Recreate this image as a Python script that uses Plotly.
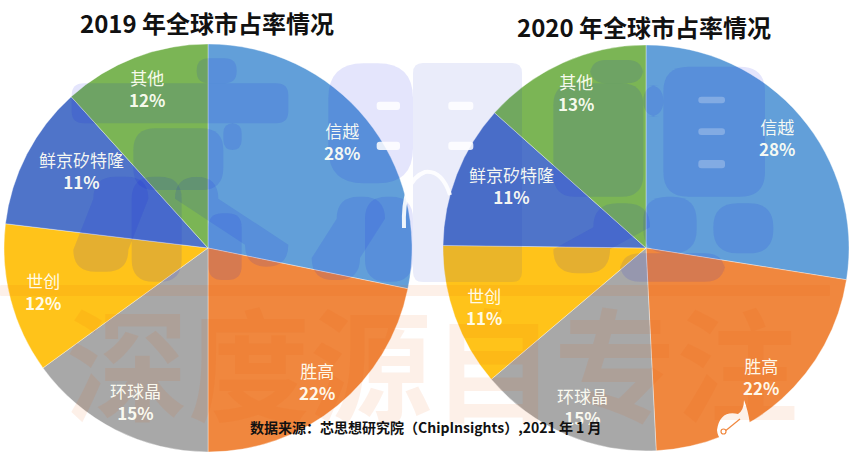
import plotly.graph_objects as go

labels = ["信越", "胜高", "环球晶", "世创", "鲜京矽特隆", "其他"]
v2019 = [28.2, 21.8, 15.0, 11.9, 11.4, 11.7]
v2020 = [27.5, 21.7, 14.6, 11.4, 11.4, 13.4]
colors = ["#629fd9", "#f0873e", "#a8a8a8", "#ffc31a", "#4f74c9", "#7bb555"]
title19 = "2019 年全球市占率情况"
title20 = "2020 年全球市占率情况"
source = "数据来源：芯思想研究院（ChipInsights）,2021 年 1 月"
watermark = "深度源自专注"
label_xy19 = [(342, 141), (317, 381), (135, 401), (43, 291), (81, 170), (147, 89)]
label_xy20 = [(777, 137), (761, 376), (582, 406), (484, 306), (511, 186), (576, 92)]
FONT = "Noto Sans CJK SC"
W, H = 860, 458
BLUE = "rgba(10,20,230,0.11)"
LAV = "rgba(20,40,200,0.09)"
PEACH = "rgba(235,90,0,0.09)"

def fx(p): return p / W
def fy(p): return 1 - p / H

def pie(vals, x0, x1, y0, y1):
    return go.Pie(labels=labels, values=vals, sort=False, direction="clockwise", rotation=0,
                  domain=dict(x=[fx(x0), fx(x1)], y=[fy(y1), fy(y0)]),
                  marker=dict(colors=colors, line=dict(width=0.8, color="rgba(255,255,255,0.45)")),
                  textinfo="none", showlegend=False)

def blob(x0, y0, x1, y1, r=14, s=0, fill=BLUE):
    # rounded box in picture pixels, s shifts the top edge sideways
    p = (f"M {x0+s+r} {y0} L {x1+s-r} {y0} Q {x1+s} {y0} {x1+s} {y0+r} L {x1} {y1-r} Q {x1} {y1} {x1-r} {y1} "
         f"L {x0+r} {y1} Q {x0} {y1} {x0} {y1-r} L {x0+s} {y0+r} Q {x0+s} {y0} {x0+s+r} {y0} Z")
    return dict(type="path", path=p, xref="x", yref="y", fillcolor=fill, line=dict(width=0), layer="above")

z1 = lambda a, b, c, d: (a / 3, b / 3 + 40, c / 3, d / 3 + 40)
z2 = lambda a, b, c, d: (a / 3 + 430, b / 3 + 40, c / 3 + 430, d / 3 + 40)

shapes = []
for box, kw in [
    (z1(215, 130, 865, 250), dict(r=12)),
    (z1(590, 55, 710, 130), dict(r=12)),
    (z1(670, 250, 725, 330), dict(r=10)),
    (z1(400, 265, 670, 450), dict(r=22)),
    (z1(220, 410, 385, 695), dict(r=22, s=20)),
    (z1(395, 410, 545, 725), dict(r=22)),
    (z1(735, 410, 865, 680), dict(r=22, s=-70)),
    (z1(625, 520, 725, 720), dict(r=14)),
    (z1(935, 470, 1080, 720), dict(r=22, s=25)),
    (z1(1095, 470, 1239, 725), dict(r=22)),
    (z1(985, 70, 1239, 430), dict(r=35)),
    (z2(370, 130, 640, 470), dict(r=22)),
    (z2(480, 60, 640, 130), dict(r=16)),
    (z2(700, 80, 1005, 470), dict(r=25)),
    (z2(640, 135, 700, 230), dict(r=16)),
    (z2(640, 470, 800, 640), dict(r=24)),
    (z2(850, 490, 1030, 640), dict(r=24)),
    (z2(370, 490, 540, 700), dict(r=24, s=40)),
    (z2(570, 640, 885, 725), dict(r=20)),
]:
    shapes.append(blob(*box, **kw))
shapes.append(blob(413, 63, 522, 282, r=10, fill=LAV))
# orange band behind the lower watermark
shapes.append(blob(0, 285, 830, 296, r=1, fill=PEACH))
# light gaps in the lavender logo
for box in [z1(1130, 185, 1200, 210), z1(1130, 305, 1200, 330), z2(55, 185, 130, 210), z2(55, 305, 130, 330)]:
    shapes.append(blob(*box, r=3, fill="rgba(255,255,255,0.85)"))
for box in [z2(805, 170, 885, 190), z2(805, 265, 885, 285), z2(805, 360, 885, 385)]:
    shapes.append(blob(*box, r=3, fill="rgba(255,255,255,0.25)"))
shapes.append(dict(type="path", path="M 404 228 Q 402 180 425 172 Q 442 170 450 195", xref="x", yref="y",
                   line=dict(color="rgba(255,255,255,0.9)", width=4), layer="above"))
# badge, bottom right
shapes.append(dict(type="path", path="M 717 430 Q 720 410 738 414 Q 744 410 744 400 Q 748 410 750 424 Q 744 444 730 444 Q 718 442 717 430 Z",
                   xref="x", yref="y", fillcolor="white", line=dict(width=0), layer="above"))
shapes.append(dict(type="line", x0=724, y0=432, x1=740, y1=419, xref="x", yref="y",
                   line=dict(color="#f0873e", width=1.2), layer="above"))
shapes.append(dict(type="circle", x0=721, y0=429, x1=726, y1=434, xref="x", yref="y",
                   line=dict(color="#f0873e", width=1.2), fillcolor="white", layer="above"))

def note(text, x, y, size, color, **kw):
    return dict(text=text, x=fx(x), y=fy(y), xref="paper", yref="paper", showarrow=False,
                xanchor="center", yanchor="middle", font=dict(size=size, family=FONT, color=color), **kw)

anns = [note(f"<b>{watermark}</b>", 432, 358, 122, PEACH)]
for vals, pos in [(v2019, label_xy19), (v2020, label_xy20)]:
    total = sum(vals)
    for name, v, (x, y) in zip(labels, vals, pos):
        anns.append(note(f"{name}<br><b>{round(v / total * 100)}%</b>", x, y, 17, "rgba(255,255,245,0.95)"))
anns += [
    note(f"<b>{title19}</b>", 207, 22, 24, "#111111"),
    note(f"<b>{title20}</b>", 644, 26, 24, "#111111"),
    note(f"<b>{source}</b>", 426, 427, 14, "#111111"),
]

fig = go.Figure([pie(v2019, 4, 412, 44, 452), pie(v2020, 443, 849, 45, 451)])
fig.update_layout(width=W, height=H, margin=dict(l=0, r=0, t=0, b=0), paper_bgcolor="white",
                  plot_bgcolor="rgba(0,0,0,0)", shapes=shapes, annotations=anns,
                  xaxis=dict(range=[0, W], visible=False, fixedrange=True),
                  yaxis=dict(range=[H, 0], visible=False, fixedrange=True))
fig.write_html("out.html", config=dict(displayModeBar=False),
               post_script="document.body.style.margin='0';document.body.style.overflow='hidden';")
